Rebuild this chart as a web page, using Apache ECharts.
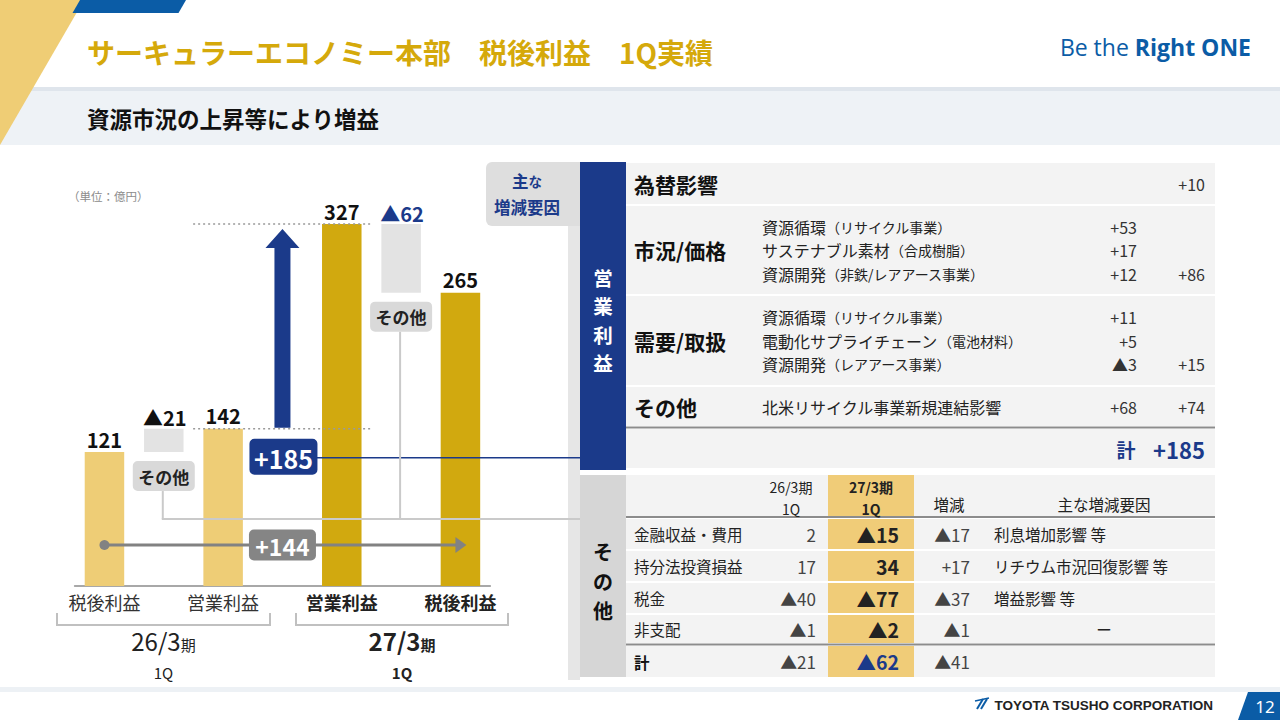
<!DOCTYPE html>
<html lang="ja">
<head>
<meta charset="utf-8">
<title>サーキュラーエコノミー本部 税後利益 1Q実績</title>
<script src="https://cdn.jsdelivr.net/npm/echarts@6/dist/echarts.min.js"></script>
<style>
html,body{margin:0;padding:0;background:#fff;overflow:hidden;}
#chart{width:1280px;height:720px;}
</style>
</head>
<body>
<div id="chart"></div>
<script>
// ---------------- data ----------------
const categories = ['26税後利益','26その他','26営業利益','営業利益増減','27営業利益','27その他','27税後利益'];
const axisNames = ['税後利益','','営業利益','','営業利益','','税後利益'];
const profitValues = [121, null, 142, null, 327, null, 265];
const stepIndex = [1, 3, 5];
const stepLow = [121, 142, 265];
const stepHigh = [142, 327, 327];
const stepLabels = ['▲21', '+185', '▲62'];
const stepKinds = ['other', 'op', 'other'];
const yoyFromIndex = 0;
const yoyToIndex = 6;
const yoyLabel = '+144';
const periodNames = ['26/3', '27/3'];
const periodSuffix = '期';
const quarterName = '1Q';
const unitText = '（単位：億円）';
const titleText = 'サーキュラーエコノミー本部　税後利益　1Q実績';
const subtitleText = '資源市況の上昇等により増益';
const otherTagText = 'その他';
const sloganA = 'Be the ';
const sloganB = 'Right ONE';
const companyName = 'TOYOTA TSUSHO CORPORATION';
const pageNo = '12';

// operating profit factors
const factorHeadA = '主';
const factorHeadB = 'な';
const factorHeadC = '増減要因';
const opBandText = '営業利益';
const opGroupNames = ['為替影響','市況/価格','需要/取扱','その他'];
const opGroupTotals = ['+10','+86','+15','+74'];
const opItemNames = [
  [],
  ['資源循環（リサイクル事業）','サステナブル素材（合成樹脂）','資源開発（非鉄/レアアース事業）'],
  ['資源循環（リサイクル事業）','電動化サプライチェーン（電池材料）','資源開発（レアアース事業）'],
  ['北米リサイクル事業新規連結影響']
];
const opItemValues = [[], ['+53','+17','+12'], ['+11','+5','▲3'], ['+68']];
const opTotalLabel = '計';
const opTotalValue = '+185';

// other items
const otherBandText = 'その他';
const otherColHeaders = [['26/3期','1Q'],['27/3期','1Q'],['増減'],['主な増減要因']];
const otherRowNames = ['金融収益・費用','持分法投資損益','税金','非支配'];
const other26 = ['2','17','▲40','▲1'];
const other27 = ['▲15','34','▲77','▲2'];
const otherDiff = ['▲17','+17','▲37','▲1'];
const otherReasons = ['利息増加影響 等','リチウム市況回復影響 等','増益影響 等','ー'];
const otherTotalName = '計';
const otherTotals = ['▲21','▲62','▲41'];

// ---------------- styles / layout ----------------
const FONT = '"Noto Sans CJK JP","Noto Sans",sans-serif';
const BLUE = '#1b3a8a';
const CORP_BLUE = '#0b5ca6';
const LIGHT_GOLD = '#eecd76';
const DARK_GOLD = '#d1a90f';
const TITLE_GOLD = '#d5a90b';
const PANEL_X = 580;
const CONNECT_Y = 519;
const TX0 = 626, TX1 = 1215;

function textEl(text, x, y, o) {
  o = o || {};
  const st = {
    text: text, x: x, y: y,
    fill: o.color || '#222',
    fontSize: o.size || 16,
    fontWeight: o.bold ? 'bold' : 'normal',
    fontFamily: o.family || FONT,
    align: o.align || 'left', textAlign: o.align || 'left',
    verticalAlign: o.va || 'middle', textVerticalAlign: o.va || 'middle'
  };
  if (o.lh) st.lineHeight = o.lh;
  if (o.rich) st.rich = o.rich;
  return { type: 'text', z: o.z == null ? 20 : o.z, silent: true, style: st };
}
function rectEl(x, y, w, h, fill, o) {
  o = o || {};
  return { type: 'rect', z: o.z == null ? 5 : o.z, silent: true, shape: { x: x, y: y, width: w, height: h, r: o.r || 0 }, style: { fill: fill } };
}
function polyEl(points, fill, z) {
  return { type: 'polygon', z: z == null ? 5 : z, silent: true, shape: { points: points }, style: { fill: fill } };
}
function lineEl(points, stroke, w, z, dash) {
  const s = { stroke: stroke, lineWidth: w, fill: null };
  if (dash) s.lineDash = dash;
  return { type: 'polyline', z: z == null ? 6 : z, silent: true, shape: { points: points }, style: s };
}
function rs(size, bold, color, family, va) {
  return { fontSize: size, fontWeight: bold ? 'bold' : 'normal', fill: color, color: color, fontFamily: family || FONT, verticalAlign: va || 'middle' };
}
function verticalText(str, cx, cy, step, o) {
  const chars = str.split('');
  const n = chars.length;
  chars.forEach(function (c, i) {
    g.push(textEl(c, cx, cy + (i - (n - 1) / 2) * step, o));
  });
}

// ---------------- chart marks ----------------
function renderStep(params, api) {
  const k = api.value(3);
  const ci = api.value(0);
  const lo = api.coord([ci, api.value(1)]);
  const hi = api.coord([ci, api.value(2)]);
  const slot = api.size([1, 0])[0];
  const cx = lo[0];
  const ch = [];
  if (stepKinds[k] === 'other') {
    const w = slot * 0.666;
    ch.push({ type: 'rect', shape: { x: cx - w / 2, y: hi[1], width: w, height: lo[1] - hi[1] }, style: { fill: '#e3e3e3' } });
    ch.push(textEl(stepLabels[k], cx + 1, hi[1] - 1, { size: 20, bold: true, color: k === 2 ? BLUE : '#111', align: 'center', va: 'bottom' }));
    const tagW = 62, tagH = 30, tagTop = lo[1] + 9;
    ch.push({ type: 'line', shape: { x1: cx - 1, y1: tagTop + tagH, x2: cx - 1, y2: CONNECT_Y }, style: { stroke: '#cacaca', lineWidth: 2 } });
    if (k === 0) {
      ch.push({ type: 'line', shape: { x1: cx - 2, y1: CONNECT_Y, x2: PANEL_X, y2: CONNECT_Y }, style: { stroke: '#cacaca', lineWidth: 2 } });
    }
    ch.push({ type: 'rect', shape: { x: cx - tagW / 2, y: tagTop, width: tagW, height: tagH, r: 5 }, style: { fill: '#d9d9d9' } });
    ch.push(textEl(otherTagText, cx, tagTop + tagH / 2, { size: 17, bold: true, color: '#222', align: 'center' }));
  } else {
    const x0 = api.coord([ci - 1, 0])[0] - 30;
    const x1 = api.coord([ci + 1, 0])[0] + 30;
    ch.push({ type: 'line', shape: { x1: x0, y1: hi[1], x2: x1, y2: hi[1] }, style: { stroke: '#9a9a9a', lineWidth: 1.5, lineDash: [2, 3] } });
    ch.push({ type: 'line', shape: { x1: x0, y1: lo[1], x2: x1, y2: lo[1] }, style: { stroke: '#9a9a9a', lineWidth: 1.5, lineDash: [2, 3] } });
    const sw = 8, hw = 17, hl = 19;
    const tip = hi[1] + 5, base = lo[1] - 1;
    ch.push({ type: 'polygon', shape: { points: [[cx - sw, base], [cx - sw, tip + hl], [cx - hw, tip + hl], [cx, tip], [cx + hw, tip + hl], [cx + sw, tip + hl], [cx + sw, base]] }, style: { fill: BLUE } });
    const bw = 68, bh = 36, by = lo[1] + 10;
    ch.push({ type: 'line', shape: { x1: cx + bw / 2, y1: by + bh / 2 + 1, x2: PANEL_X, y2: by + bh / 2 + 1 }, style: { stroke: BLUE, lineWidth: 1.6 } });
    ch.push({ type: 'rect', shape: { x: cx - bw / 2 + 1, y: by, width: bw, height: bh, r: 5 }, style: { fill: BLUE } });
    ch.push(textEl(stepLabels[k], cx + 1, by + bh / 2 + 1, { size: 25, bold: true, color: '#fff', align: 'center' }));
  }
  return { type: 'group', children: ch };
}

function renderYoy(params, api) {
  const a = api.coord([api.value(0), 0]);
  const b = api.coord([api.value(1), 0]);
  const m = api.coord([(api.value(0) + api.value(1)) / 2, 0]);
  const y = a[1] - 41;
  const c = '#828282';
  return { type: 'group', children: [
    { type: 'line', shape: { x1: a[0], y1: y, x2: b[0] - 4, y2: y }, style: { stroke: c, lineWidth: 3 } },
    { type: 'circle', shape: { cx: a[0], cy: y, r: 5 }, style: { fill: c } },
    { type: 'polygon', shape: { points: [[b[0] - 5, y - 8], [b[0] + 6, y], [b[0] - 5, y + 8]] }, style: { fill: c } },
    { type: 'rect', shape: { x: m[0] - 33.5, y: y - 15.5, width: 67, height: 31, r: 5 }, style: { fill: '#858585' } },
    textEl(yoyLabel, m[0], y + 1, { size: 23, bold: true, color: '#fff', align: 'center' })
  ] };
}

// ---------------- slide graphics ----------------
const g = [];
// header
g.push(rectEl(0, 87, 1280, 58, '#eef2f6', { z: 1 }));
g.push(rectEl(0, 87, 1280, 4, '#dfe5ec', { z: 1 }));
g.push(polyEl([[0, 0], [84, 0], [0, 145]], '#efcd75', 2));
g.push(polyEl([[80, 0], [186, 0], [178.5, 13], [72.5, 13]], CORP_BLUE, 3));
g.push(textEl(titleText, 87, 52, { size: 28, bold: true, color: TITLE_GOLD }));
g.push(textEl(subtitleText, 87, 118, { size: 22.5, bold: true, color: '#111' }));
g.push(textEl('{a|' + sloganA + '}{b|' + sloganB + '}', 1251, 47, { align: 'right', color: CORP_BLUE,
  rich: { a: rs(23, false, CORP_BLUE, '"Open Sans",sans-serif'), b: rs(23, true, CORP_BLUE, '"Open Sans",sans-serif') } }));
// footer
g.push(rectEl(0, 687, 1280, 5, '#edf1f5', { z: 1 }));
g.push(textEl(companyName, 1213, 705, { size: 13.5, bold: true, color: '#222', align: 'right', family: '"Liberation Sans",Arial,sans-serif' }));
g.push(lineEl([[977, 709], [983, 699]], CORP_BLUE, 2, 6));
g.push(lineEl([[981, 709], [987, 699]], CORP_BLUE, 2, 6));
g.push(lineEl([[975, 701], [989, 698]], CORP_BLUE, 1.5, 6));
g.push(polyEl([[1248, 692], [1280, 692], [1280, 720], [1238, 720]], CORP_BLUE, 3));
g.push(textEl(pageNo, 1265, 706, { size: 17, color: '#fff', align: 'center', family: '"Noto Sans",sans-serif' }));

// left chart texts
g.push(textEl(unitText, 68, 196, { size: 11.5, color: '#8c8c8c' }));
g.push(lineEl([[57, 613], [57, 625], [270, 625], [270, 613]], '#c0c0c0', 2, 4));
g.push(lineEl([[296, 613], [296, 625], [508, 625], [508, 613]], '#c0c0c0', 2, 4));
const periodCenters = [163.5, 402];
periodNames.forEach(function (p, i) {
  const bold = i === 1;
  g.push(textEl('{n|' + p + '}{s|' + periodSuffix + '}', periodCenters[i], 640, { align: 'center',
    rich: { n: rs(24, bold, '#222', FONT, 'bottom'), s: rs(15, bold, '#222', FONT, 'bottom') } }));
  g.push(textEl(quarterName, periodCenters[i], 672, { size: 15, bold: bold, color: '#222', align: 'center' }));
});

// right panel: upper table (operating profit factors)
g.push(rectEl(486, 162, 100, 64, '#dedede', { z: 3, r: 6 }));
g.push(textEl('{a|' + factorHeadA + '}{b|' + factorHeadB + '}', 527, 181, { align: 'center',
  rich: { a: rs(16.5, true, BLUE), b: rs(13.5, true, BLUE) } }));
g.push(textEl(factorHeadC, 527, 207, { size: 16.5, bold: true, color: BLUE, align: 'center' }));
g.push(rectEl(568, 226, 12, 454, '#e6e6e6', { z: 2 }));
g.push(rectEl(580, 162, 46, 308, BLUE, { z: 4 }));
verticalText(opBandText, 603, 320, 28.5, { size: 19.5, bold: true, color: '#fff', align: 'center' });

const opRowTop = [163, 206, 296, 387];
const opRowBottom = [204, 294, 385, 426];
const itemRich = { m: rs(16, false, '#222'), p: rs(14, false, '#222') };
opGroupNames.forEach(function (name, gi) {
  const top = opRowTop[gi], bot = opRowBottom[gi], cy = (top + bot) / 2;
  g.push(rectEl(TX0, top, TX1 - TX0, bot - top, '#f3f3f3', { z: 2 }));
  g.push(textEl(name, 634, cy, { size: 21, bold: true, color: '#111' }));
  const items = opItemNames[gi];
  const n = items.length;
  let lastY = cy;
  items.forEach(function (it, j) {
    const y = cy + (j - (n - 1) / 2) * 23.5;
    lastY = y;
    const pi = it.indexOf('（');
    const txt = pi >= 0 ? '{m|' + it.slice(0, pi) + '}{p|' + it.slice(pi) + '}' : '{m|' + it + '}';
    g.push(textEl(txt, 762, y, { rich: itemRich }));
    g.push(textEl(opItemValues[gi][j], 1137, y, { size: 16, color: '#333', align: 'right' }));
  });
  g.push(textEl(opGroupTotals[gi], 1205, lastY, { size: 16, color: '#333', align: 'right' }));
});
g.push(rectEl(TX0, 426.5, TX1 - TX0, 2, '#8c8c8c', { z: 3 }));
g.push(rectEl(TX0, 429, TX1 - TX0, 39, '#f3f3f3', { z: 2 }));
g.push(textEl(opTotalLabel, 1126, 449, { size: 19, bold: true, color: BLUE, align: 'center' }));
g.push(textEl(opTotalValue, 1205, 449, { size: 22, bold: true, color: BLUE, align: 'right' }));

// right panel: lower table (other items)
g.push(rectEl(580, 475, 46, 202, '#d6d6d6', { z: 4 }));
verticalText(otherBandText, 603, 581, 29.5, { size: 20, bold: true, color: '#111', align: 'center' });
const otRowTop = [475, 519, 551, 583, 615, 646];
const otRowBottom = [516, 549, 581, 613, 643, 677];
otRowTop.forEach(function (top, r) {
  g.push(rectEl(TX0, top, TX1 - TX0, otRowBottom[r] - top, '#f3f3f3', { z: 2 }));
  g.push(rectEl(828, top, 86, otRowBottom[r] - top, '#f0cc78', { z: 3 }));
});
g.push(rectEl(TX0, 516, TX1 - TX0, 2, '#8c8c8c', { z: 4 }));
g.push(rectEl(TX0, 643.5, TX1 - TX0, 2, '#8c8c8c', { z: 4 }));
const colHeaderX = [791, 871, 949, 1104];
otherColHeaders.forEach(function (h, i) {
  if (h.length === 2) {
    g.push(textEl(h[0], colHeaderX[i], 487, { size: 14, bold: i === 1, color: '#222', align: 'center' }));
    g.push(textEl(h[1], colHeaderX[i], 508.5, { size: 14, bold: i === 1, color: '#222', align: 'center' }));
  } else {
    g.push(textEl(h[0], colHeaderX[i], 504, { size: 15.5, color: '#222', align: 'center' }));
  }
});
otherRowNames.forEach(function (name, r) {
  const y = (otRowTop[r + 1] + otRowBottom[r + 1]) / 2;
  g.push(textEl(name, 634, y, { size: 15.5, color: '#222' }));
  g.push(textEl(other26[r], 816, y, { size: 17, color: '#444', align: 'right' }));
  g.push(textEl(other27[r], 899, y, { size: 19.5, bold: true, color: '#222', align: 'right' }));
  g.push(textEl(otherDiff[r], 970, y, { size: 17, color: '#444', align: 'right' }));
  const reason = otherReasons[r];
  if (reason === 'ー') g.push(textEl(reason, 1104, y, { size: 15.5, color: '#222', align: 'center' }));
  else g.push(textEl(reason, 994, y, { size: 15.5, color: '#222' }));
});
const ty = (otRowTop[5] + otRowBottom[5]) / 2;
g.push(textEl(otherTotalName, 634, ty, { size: 15.5, bold: true, color: '#111' }));
g.push(textEl(otherTotals[0], 816, ty, { size: 17, color: '#444', align: 'right' }));
g.push(textEl(otherTotals[1], 899, ty, { size: 19.5, bold: true, color: BLUE, align: 'right' }));
g.push(textEl(otherTotals[2], 970, ty, { size: 17, color: '#444', align: 'right' }));

// ---------------- chart ----------------
const chart = echarts.init(document.getElementById('chart'), null, { renderer: 'svg', width: 1280, height: 720 });
chart.setOption({
  animation: false,
  backgroundColor: '#ffffff',
  grid: { left: 74.8, top: 198.55, width: 415.3, height: 387.45, containLabel: false },
  xAxis: {
    type: 'category',
    data: categories,
    axisTick: { show: false },
    axisLine: { show: true, lineStyle: { color: '#a8a8a8', width: 2 } },
    axisLabel: {
      interval: 0, margin: 7,
      formatter: function (v, idx) {
        const n = axisNames[idx];
        if (!n) return '';
        return idx > 3 ? '{b|' + n + '}' : '{n|' + n + '}';
      },
      rich: {
        n: { fontSize: 18, color: '#333', fontFamily: FONT },
        b: { fontSize: 18, fontWeight: 'bold', color: '#222', fontFamily: FONT }
      }
    },
    splitLine: { show: false }
  },
  yAxis: { type: 'value', min: 0, max: 350, show: false, splitLine: { show: false } },
  series: [
    {
      type: 'bar', name: '利益',
      data: profitValues.map(function (v, i) { return v == null ? null : { value: v, itemStyle: { color: i < 3 ? LIGHT_GOLD : DARK_GOLD } }; }),
      barWidth: 39.5, z: 2,
      label: { show: true, position: 'top', distance: 3, fontSize: 20, fontWeight: 'bold', color: '#111', fontFamily: FONT }
    },
    {
      type: 'custom', name: '増減',
      data: stepIndex.map(function (c, k) { return [c, stepLow[k], stepHigh[k], k]; }),
      encode: { x: 0, y: [1, 2] },
      renderItem: renderStep, z: 5, clip: false
    },
    {
      type: 'custom', name: '前年比',
      data: [[yoyFromIndex, yoyToIndex, 0]],
      encode: { x: [0, 1], y: 2 },
      renderItem: renderYoy, z: 6, clip: false
    }
  ],
  graphic: { elements: g }
});
</script>
</body>
</html>
